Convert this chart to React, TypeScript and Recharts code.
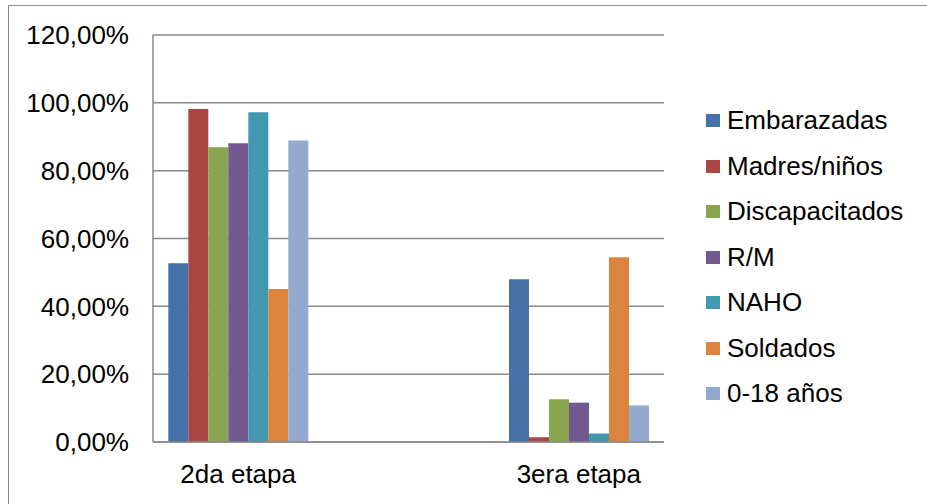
import {
  BarChart,
  Bar,
  XAxis,
  YAxis,
  CartesianGrid,
  Legend,
} from "recharts";

// categories (middle slot is an empty category in the original)
const stages = ["2da etapa", "", "3era etapa"];

const seriesNames = [
  "Embarazadas",
  "Madres/niños",
  "Discapacitados",
  "R/M",
  "NAHO",
  "Soldados",
  "0-18 años",
];

// values per series, one per stage (fractions)
const embarazadas = [0.527, null, 0.48];
const madresNinos = [0.982, null, 0.014];
const discapacitados = [0.869, null, 0.126];
const rm = [0.881, null, 0.116];
const naho = [0.972, null, 0.025];
const soldados = [0.451, null, 0.545];
const ninos018 = [0.889, null, 0.108];

const yTicks = [0, 0.2, 0.4, 0.6, 0.8, 1.0, 1.2];

const seriesValues = [embarazadas, madresNinos, discapacitados, rm, naho, soldados, ninos018];
const colors = ["#4572a7", "#aa4643", "#89a54e", "#71588f", "#4198af", "#db843d", "#93a9cf"];

const data = stages.map((stage, i) => {
  const row: any = { stage };
  seriesNames.forEach((name, s) => {
    row[name] = seriesValues[s][i];
  });
  return row;
});

const FONT = "'Liberation Sans', Arial, sans-serif";

const formatPct = (v: number) => (v * 100).toFixed(2).replace(".", ",") + "%";

// legend keeps the series order (recharts would sort it by name)
const LegendContent = () => (
  <div style={{ fontFamily: FONT, fontSize: 26, color: "#000" }}>
    {seriesNames.map((name, i) => (
      <div key={name} style={{ height: 45.5, display: "flex", alignItems: "center" }}>
        <span
          style={{
            display: "inline-block",
            width: 14,
            height: 13,
            background: colors[i],
            marginRight: 7,
          }}
        />
        <span>{name}</span>
      </div>
    ))}
  </div>
);

const App = () => {
  return (
    <div
      style={{
        position: "absolute",
        left: 0,
        top: 0,
        width: 927,
        height: 504,
        overflow: "hidden",
        background: "#fff",
      }}
    >
      <div
        style={{
          position: "absolute",
          left: 8,
          top: 5,
          width: 919,
          height: 499,
          borderTop: "1.5px solid #8a8a8a",
          borderLeft: "1.5px solid #8a8a8a",
          boxSizing: "border-box",
        }}
      />
      <div style={{ position: "absolute", left: 0, top: 0 }}>
        <BarChart
          width={927}
          height={504}
          data={data}
          margin={{ top: 35, right: 263, bottom: 22, left: 8 }}
          barCategoryGap="9%"
          barGap={0}
        >
          <CartesianGrid vertical={false} stroke="#8a8a8a" strokeWidth={1.5} />
          <XAxis
            dataKey="stage"
            height={40}
            tickLine={false}
            tickSize={0}
            tickMargin={23}
            axisLine={{ stroke: "#8a8a8a", strokeWidth: 1.5 }}
            tick={{ fill: "#000", fontSize: 26, fontFamily: FONT }}
          />
          <YAxis
            width={145}
            domain={[0, 1.2]}
            ticks={yTicks}
            tickFormatter={formatPct}
            tickLine={false}
            tickSize={0}
            tickMargin={24}
            axisLine={{ stroke: "#8a8a8a", strokeWidth: 1.5 }}
            tick={{ fill: "#000", fontSize: 26, fontFamily: FONT }}
          />
          <Legend
            layout="vertical"
            align="center"
            verticalAlign="middle"
            wrapperStyle={{ left: 706, top: 98, width: 215 }}
            content={<LegendContent />}
          />
          {seriesNames.map((name, i) => (
            <Bar
              key={name}
              dataKey={name}
              fill={colors[i]}
              isAnimationActive={false}
            />
          ))}
        </BarChart>
      </div>
    </div>
  );
};

export default App;
